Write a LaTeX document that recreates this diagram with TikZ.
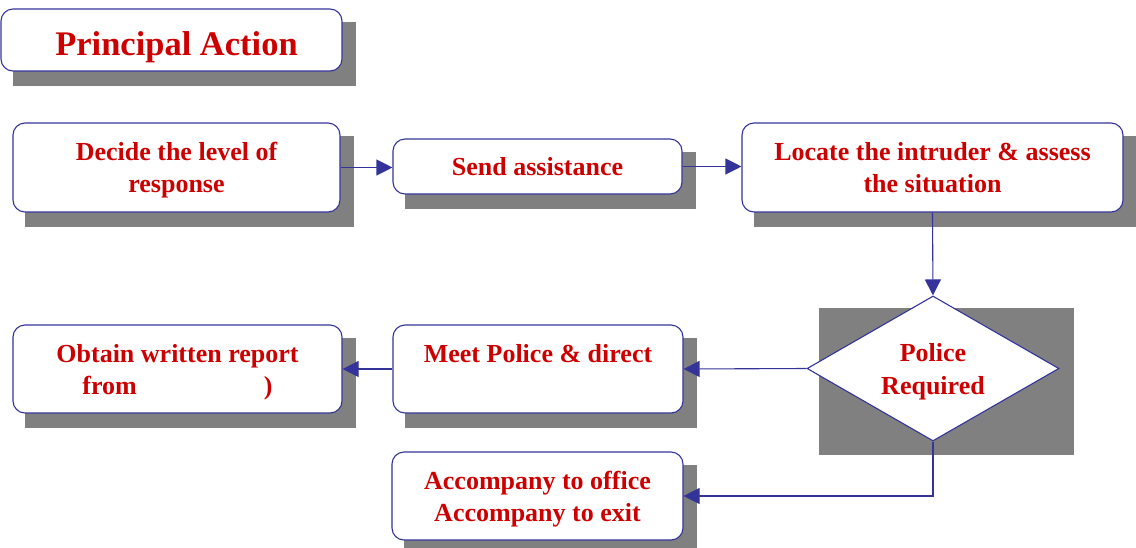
\documentclass[tikz,border=0pt]{standalone}
\usepackage{fontspec}
\setmainfont{Liberation Serif}
\usetikzlibrary{arrows.meta,shapes.geometric,backgrounds,calc}
\definecolor{tred}{RGB}{204,0,0}
\definecolor{tblue}{RGB}{51,51,153}
\definecolor{tshadow}{RGB}{128,128,128}
\newcommand\shadowof[1]{\fill[tshadow] ($(#1.north west)+(13,14)$) rectangle ($(#1.south east)+(13,14)$);}
\begin{document}
\begin{tikzpicture}[x=1pt,y=-1pt,
  box/.style={draw=tblue, line width=1.1pt, rounded corners=12pt, fill=white, text=tred,
    font=\bfseries\fontsize{26}{32}\selectfont, align=center, inner sep=0pt, text depth=0pt},
  conn/.style={draw=tblue, line width=1.1pt, -{Triangle[length=16pt,width=16pt,fill=tblue]}}]
\useasboundingbox (0,0) rectangle (1136,547);

\node[box, minimum width=341pt, minimum height=62pt, font=\bfseries\fontsize{34.5}{40}\selectfont, text height=30pt, text depth=0pt] (title) at (171.5,40) {\hspace*{10pt}Principal Action};

\node[box, minimum width=327pt, minimum height=89pt] (decide) at (176.5,167.5) {Decide the level of\\response};
\node[box, minimum width=289pt, minimum height=55pt] (send) at (537.5,166.5) {Send assistance};
\node[box, minimum width=381pt, minimum height=89pt] (locate) at (932.5,167.5) {Locate the intruder \& assess\\the situation};

\node[draw=tblue, line width=1.1pt, fill=white, text=tred, diamond, aspect=1.74, minimum width=252pt, minimum height=145pt, inner sep=0pt, align=center,
  text depth=0pt, font=\bfseries\fontsize{26}{33}\selectfont] (dia) at (933,368.5) {Police\\Required};

\node[box, minimum width=290pt, minimum height=88pt] (meet) at (538,369) {Meet Police \& direct\\\mbox{}};
\node[box, minimum width=329pt, minimum height=88pt] (obtain) at (177.5,369) {Obtain written report\\from\hspace{127pt})};
\node[box, minimum width=291pt, minimum height=88pt] (acc) at (537.5,496) {Accompany to office\\Accompany to exit};

\begin{pgfonlayer}{background}
  \shadowof{title}
  \shadowof{decide}
  \shadowof{send}
  \shadowof{locate}
  \shadowof{meet}
  \shadowof{obtain}
  \shadowof{acc}
  \fill[tshadow] ($(dia.west)+(13,-60.5)$) rectangle ($(dia.east)+(14,86.5)$);
\end{pgfonlayer}

\draw[conn] (decide.east) -- (decide.east -| send.west);
\draw[conn] (send.east) -- (send.east -| locate.west);
\draw[conn] (locate.south) -- (dia.north);
\draw[conn] (dia.west) -- (meet.east);
\draw[conn] (meet.west) -- (obtain.east);
\draw[conn] (dia.south) |- (acc.east);
\end{tikzpicture}
\end{document}
